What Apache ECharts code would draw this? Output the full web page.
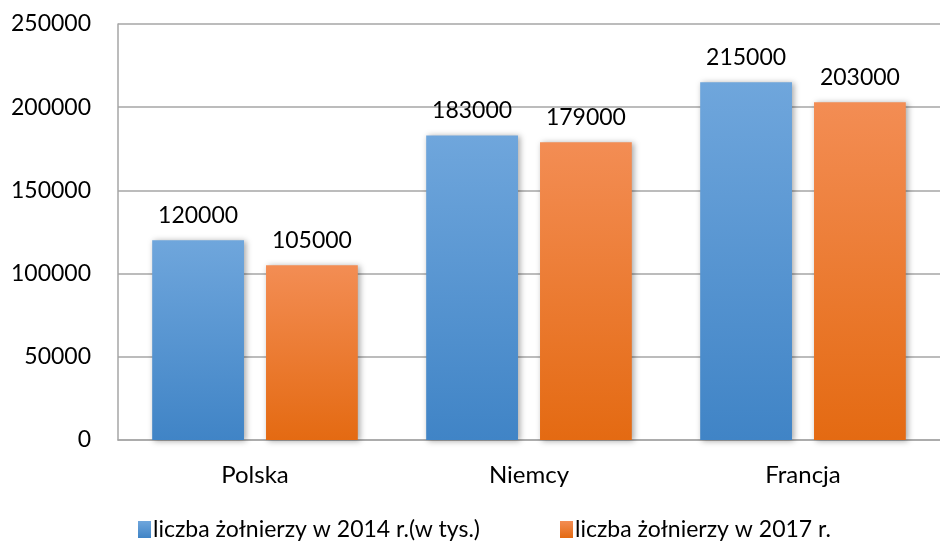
<!DOCTYPE html>
<html>
<head>
<meta charset="utf-8">
<script src="https://cdn.jsdelivr.net/npm/echarts@6/dist/echarts.min.js"></script>
<style>
  html, body { margin: 0; padding: 0; background: #fff; }
  #chart { width: 940px; height: 543px; }
</style>
</head>
<body>
<div id="chart"></div>
<script>
  const categories = ['Polska', 'Niemcy', 'Francja'];
  const seriesNames = ['liczba żołnierzy w 2014 r.(w tys.)', 'liczba żołnierzy w 2017 r.'];
  const values2014 = [120000, 183000, 215000];
  const values2017 = [105000, 179000, 203000];
  const yTicks = [0, 50000, 100000, 150000, 200000, 250000];

  const font = 'Lato, "Open Sans", sans-serif';

  const grad = (top, bottom) => new echarts.graphic.LinearGradient(0, 0, 0, 1, [
    { offset: 0, color: top },
    { offset: 1, color: bottom },
  ]);
  const blue = grad('#6fa6dc', '#4084c6');
  const orange = grad('#f38d54', '#e46a12');

  const barStyle = (color) => ({
    color: color,
    shadowColor: 'rgba(0,0,0,0.35)',
    shadowBlur: 6,
    shadowOffsetX: 2,
    shadowOffsetY: 1,
  });

  const label = {
    show: true,
    position: 'top',
    distance: 13,
    color: '#000',
    fontFamily: font,
    fontSize: 23,
  };

  const chart = echarts.init(document.getElementById('chart'));
  chart.setOption({
    animation: false,
    textStyle: { fontFamily: font },
    grid: { left: 118, right: -12, top: 24, bottom: 103 },
    legend: {
      bottom: -3,
      left: 133,
      itemWidth: 13,
      itemHeight: 17,
      itemGap: 80,
      icon: 'rect',
      textStyle: { fontSize: 23, color: '#000', fontFamily: font, padding: [0, 0, 0, -3] },
      data: seriesNames,
    },
    xAxis: {
      type: 'category',
      data: categories,
      axisLine: { lineStyle: { color: '#a6a6a6', width: 1.5 } },
      axisTick: { show: false },
      axisLabel: { fontSize: 24, color: '#000', margin: 23 },
    },
    yAxis: {
      type: 'value',
      min: yTicks[0],
      max: yTicks[yTicks.length - 1],
      interval: 50000,
      axisLine: { show: true, lineStyle: { color: '#a6a6a6', width: 1.5 } },
      axisTick: { show: false },
      axisLabel: { fontSize: 23, color: '#000', margin: 27, formatter: (v) => String(v) },
      splitLine: { lineStyle: { color: '#a6a6a6', width: 1.5 } },
    },
    series: [
      {
        name: seriesNames[0],
        type: 'bar',
        data: values2014,
        barWidth: '33.5%',
        barGap: '24%',
        itemStyle: barStyle(blue),
        label: label,
      },
      {
        name: seriesNames[1],
        type: 'bar',
        data: values2017,
        barWidth: '33.5%',
        itemStyle: barStyle(orange),
        label: label,
      },
    ],
  });
</script>
</body>
</html>
